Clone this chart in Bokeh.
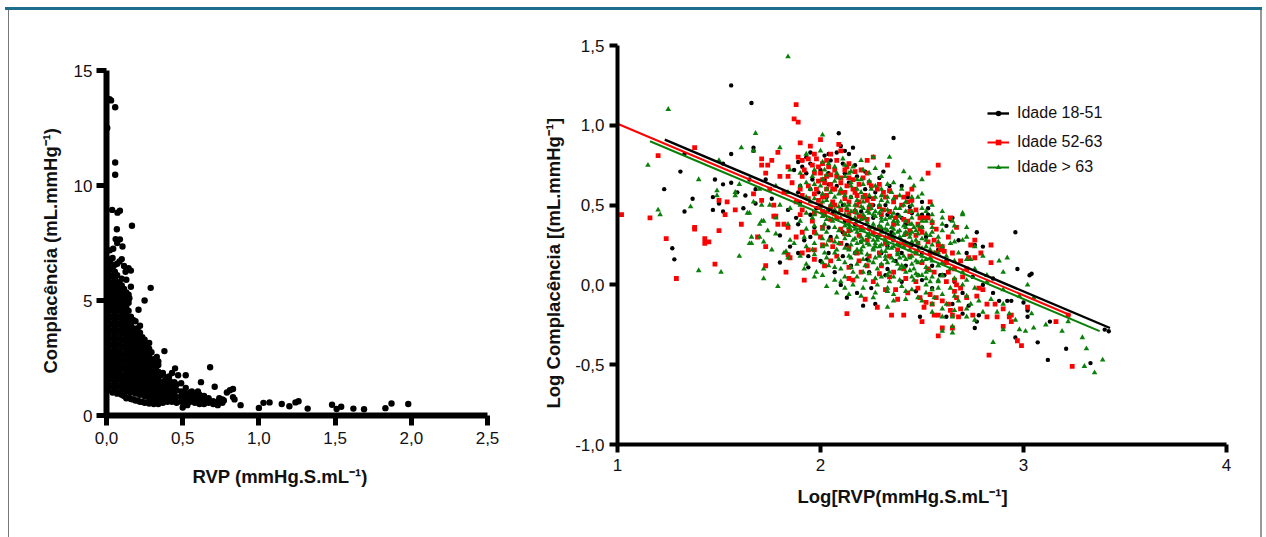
from bokeh.plotting import figure
from bokeh.layouts import row
from bokeh.embed import file_html
from bokeh.resources import INLINE
from bokeh.models import Range1d, FixedTicker, Legend, LegendItem, Title

TICK_FONT = "Liberation Sans"
TITLE_FONT = "Liberation Sans"

# ---------- left panel data ----------
left_x_ticks = [0.0, 0.5, 1.0, 1.5, 2.0, 2.5]
left_x_labels = ["0,0", "0,5", "1,0", "1,5", "2,0", "2,5"]
left_y_ticks = [0, 5, 10, 15]

left_outliers = [(.03,13.7),(.02,13.75),(.057,13.4),(.005,12.5),(.057,11.0),(.057,10.47),(.037,8.94),(.072,8.82),
 (.088,8.9),(.068,8.1),(.167,8.25),(.06,7.67),(.088,7.66),(.07,7.5),(.105,7.35),(.022,7.18),(.044,7.25),
 (.145,6.4),(.16,6.3),(.125,6.25),(.16,5.6),(.29,5.55),(.25,5.0),(.21,4.6),(.15,5.1),(.38,2.8),(.33,2.55),(.68,2.1),
 (.45,2.05),(.43,1.85),(.41,1.7),(.37,1.85),(.47,1.75),(.52,1.75),(.62,1.45),(.71,1.25),(.83,1.15),(.81,1.1),(.79,1.0),
 (.5,.35),(.53,.45),(.56,1.05),(.6,1.05),(.64,.85),(.67,.75),(.74,.75),(.77,.65),(.83,.8),(.84,.7),(.88,.45),
 (1.0,.33),(1.03,.55),(1.07,.57),(1.15,.5),(1.2,.4),(1.24,.57),(1.26,.62),(1.32,.3),(1.48,.47),(1.51,.28),(1.54,.38),
 (1.62,.3),(1.69,.27),(1.83,.32),(1.87,.52),(1.98,.5)]
left_col_x = [.01,.04,.07,.10,.13,.16,.19,.22,.25,.28,.31,.34,.37,.40,.43,.46,.49,.52,.55,.58,.61,.64,.67,.70,.73,.76]
left_col_y = [
 [1.1,1.4,1.7,2.0,2.3,2.6,2.9,3.2,3.5,3.8,4.1,4.4,4.7,5.0,5.3,5.6,5.9,6.2,6.5,6.8],
 [1.0,1.3,1.6,1.9,2.2,2.5,2.8,3.1,3.4,3.7,4.0,4.3,4.6,4.9,5.2,5.5,5.8,6.1,6.4,6.85],
 [.95,1.25,1.55,1.85,2.15,2.45,2.75,3.05,3.35,3.65,3.95,4.25,4.55,4.85,5.15,5.45,5.75,6.1,6.6],
 [.9,1.15,1.45,1.75,2.05,2.35,2.65,2.95,3.25,3.55,3.85,4.15,4.45,4.75,5.05,5.35,5.65,5.95,6.8],
 [.75,1.05,1.35,1.65,1.95,2.25,2.55,2.85,3.15,3.45,3.75,4.05,4.35,4.7,5.0,5.35,5.9],
 [.72,1.0,1.3,1.6,1.9,2.2,2.5,2.8,3.1,3.4,3.7,4.0,4.3],
 [.65,.95,1.25,1.55,1.85,2.15,2.45,2.75,3.05,3.35,3.65,4.1],
 [.6,.9,1.2,1.5,1.8,2.1,2.4,2.7,3.0,3.3,3.6,3.9],
 [.55,.85,1.15,1.45,1.75,2.05,2.35,2.65,2.95,3.3],
 [.52,.8,1.1,1.4,1.7,2.0,2.3,2.6,2.9,3.15],
 [.5,.75,1.05,1.35,1.65,1.95,2.25,2.45],
 [.5,.72,1.0,1.3,1.6,1.9,2.2,2.35],
 [.55,.8,1.1,1.4,1.8],
 [.6,.85,1.1,1.4,1.65],
 [.6,.8,1.05,1.3],
 [.55,.8,1.1,1.35],
 [.6,.85,1.05,1.4],
 [.55,.75,.95,1.2],
 [.6,.8,1.0],
 [.55,.75,.95],
 [.5,.7,.9],
 [.5,.72],
 [.55,.7],
 [.5,.62],
 [.45,.6],
 [.55,.7],
]
left_fill_x = [.025,.055,.085,.115,.145,.175,.205,.235,.265,.295,.325,.355,.385,.415,.445]
left_fill_y = [
 [1.25,1.55,1.85,2.15,2.45,2.75,3.05,3.35,3.65,3.95,4.25,4.55,4.85,5.15,5.45,5.75,6.05,6.35,6.65],
 [1.15,1.45,1.75,2.05,2.35,2.65,2.95,3.25,3.55,3.85,4.15,4.45,4.75,5.05,5.35,5.65,5.95,6.25,6.55],
 [1.0,1.3,1.6,1.9,2.2,2.5,2.8,3.1,3.4,3.7,4.0,4.3,4.6,4.9,5.2,5.5,5.8,6.7],
 [.85,1.2,1.5,1.8,2.1,2.4,2.7,3.0,3.3,3.6,3.9,4.2,4.5,4.85,5.15,5.5,6.5],
 [.8,1.15,1.45,1.75,2.05,2.35,2.65,2.95,3.25,3.55,3.85,4.2,4.55,4.9,5.25],
 [.7,1.1,1.4,1.7,2.0,2.3,2.6,2.9,3.2,3.5,3.8,4.15],
 [.65,1.05,1.35,1.65,1.95,2.25,2.55,2.85,3.15,3.45,3.8],
 [.6,1.0,1.3,1.6,1.9,2.2,2.5,2.8,3.1,3.4],
 [.58,1.0,1.25,1.55,1.85,2.15,2.45,2.75,3.1],
 [.55,.95,1.2,1.5,1.8,2.1,2.4,2.75],
 [.55,.9,1.2,1.5,1.8,2.1,2.45],
 [.6,.9,1.15,1.45,1.75],
 [.65,.95,1.25,1.55],
 [.7,.95,1.25,1.5],
 [.7,.95,1.2,1.45],
]

# ---------- right panel data ----------
right_x_ticks = [1, 2, 3, 4]
right_y_ticks = [-1.0, -0.5, 0.0, 0.5, 1.0, 1.5]
right_y_labels = ["-1,0", "-0,5", "0,0", "0,5", "1,0", "1,5"]

black_line_x, black_line_y = [1.233, 3.426], [0.91, -0.27]
red_line_x, red_line_y = [1.0, 3.232], [1.01, -0.19]
green_line_x, green_line_y = [1.16, 3.375], [0.90, -0.29]

black_pts = [(1.56,1.25),(1.66,1.14),(1.67,.86),(1.67,.84),(1.56,.82),(1.33,.82),(1.31,.71),(1.23,.60),(1.37,.54),(1.33,.46),
 (1.27,.23),(1.28,.16),(1.48,.66),(1.52,.63),(1.56,.64),(1.47,.55),(1.50,.51),(1.47,.47),(1.52,.46),(1.59,.58),(1.63,.56),
 (1.62,.48),(1.68,.60),(1.68,.51),(1.76,.54),(1.65,.66),(1.73,.66),(1.52,.76),(1.80,.14),(1.94,.11),(1.80,.31),(2.09,.95),
 (2.12,.84),(2.14,.82),(2.16,.86),(2.36,.92),(2.08,.83),(2.02,.81),(1.95,.83),(1.91,.78),(2.22,.71),(2.31,.71),(2.29,.67),
 (2.40,.62),(2.43,.55),(2.44,.49),(2.50,.44),(2.53,.48),(2.53,.44),(2.65,.42),(2.62,.37),(2.64,.41),(2.77,.33),(2.96,.33),
 (2.76,.25),(2.80,.24),(2.97,.10),(3.03,.06),(3.04,.07),(2.85,.04),(2.59,.06),(2.61,.06),(3.40,-.28),(3.42,-.29),(3.33,-.49),
 (3.21,-.40),(3.12,-.47),(3.07,-.36),(3.13,-.23),(3.02,-.20),(2.96,-.33),(3.0,-.11),(3.02,-.16),(2.92,-.10),(2.94,-.10),
 (2.88,-.10),(2.76,-.27),(2.49,-.20),(2.77,-.23),(2.78,-.19),(2.73,-.13),(2.47,-.04),
 (2.0,.72),(2.05,.78),(1.93,.70),(1.96,.66),(2.08,.62),(2.12,.7),(2.18,.68),(2.22,.6),(2.27,.58),(2.15,.55),(2.03,.55),(1.98,.48),
 (2.06,.45),(2.12,.40),(2.2,.46),(2.26,.42),(2.32,.5),(2.38,.44),(2.42,.38),(2.35,.33),(2.28,.30),(2.2,.27),(2.13,.25),(2.05,.3),
 (1.97,.36),(1.92,.28),(1.88,.42),(1.84,.47),(1.9,.52),(1.85,.24),(1.94,.18),(2.0,.15),(2.07,.08),(2.15,.12),(2.23,.16),(2.3,.2),
 (2.37,.15),(2.45,.25),(2.52,.3),(2.58,.22),(2.62,.15),(2.68,.28),(2.72,.2),(2.55,.12),(2.48,.06),(2.4,.02),(2.32,.06),(2.25,-.02),
 (2.18,-.05),(2.13,-.08),(2.21,-.13),(2.27,-.12),(2.1,.0),(2.6,.06),(2.66,.02),(2.7,-.05),(2.75,.05),(2.8,.0),(2.65,-.12),(2.62,-.2),
 (2.7,-.18),(2.85,-.05),(2.55,-.02),(2.45,.45),(2.5,.52),(2.34,.62),(2.1,.87),(2.02,.66),(1.99,.58),(1.9,.62),(1.87,.72),(1.93,.8),
 (1.91,.74),(2.04,.7),(2.14,.64),(2.26,.5),(2.3,.35),(2.36,.28),(2.42,.12)]
black_col_x = [1.89,1.95,2.04,2.11,2.17,2.24,2.33,2.4,2.5]
black_col_y = [[.77,.58,.38,.2],[.76,.6,.44,.3],[.82,.63,.47,.36,.2],[.76,.5,.33,.18],[.75,.6,.38,.2],[.55,.35,.08],[.44,.24,.1],[.42,.2],[.36,.2,.03]]

red_pts = [(1.88,1.13),(1.87,1.04),(1.89,1.02),(1.38,.86),(1.20,.81),(1.90,.89),(1.95,.87),(2.0,.91),(2.09,.88),(1.02,.44),(1.16,.42),
 (1.24,.29),(1.38,.36),(1.38,.35),(1.50,.34),(1.43,.29),(1.45,.27),(1.43,.26),(1.48,.13),(1.29,.04),(1.92,.03),(1.83,.08),(1.73,.12),
 (1.84,.19),(1.85,.17),(1.73,.24),(1.69,.30),(1.61,.38),(1.58,.47),(1.53,.44),(1.50,.53),(1.54,.52),(1.71,.53),(1.67,.57),(1.75,.60),
 (1.73,.70),(1.71,.75),(1.74,.75),(1.76,.78),(1.79,.83),(1.71,.79),(1.80,.68),(1.84,.68),(1.84,.74),(1.89,.80),(1.94,.79),(1.98,.79),
 (2.23,.78),(2.26,.80),(2.33,.75),(1.79,.38),(1.77,.43),(1.82,.38),(1.78,.43),(1.77,.50),(2.58,.75),(2.53,.70),(2.45,.60),(2.54,.52),
 (2.43,.57),(2.45,.53),(2.64,.42),(2.67,.36),(2.55,.39),(2.50,.42),(2.51,.42),(2.76,.28),(2.84,.25),(2.74,.25),(2.79,.20),(2.58,.25),
 (2.59,.22),(2.61,.21),(2.65,.20),(2.84,.14),(2.73,.17),(2.76,.17),(2.66,.03),(2.67,.0),(3.24,-.51),(2.83,-.44),(2.99,-.38),(2.97,-.35),
 (3.16,-.23),(3.22,-.19),(2.90,-.26),(2.94,-.23),(2.94,-.19),(2.93,-.20),(2.82,-.20),(2.87,-.20),(3.02,-.14),(2.82,-.12),(2.86,-.12),
 (2.90,-.15),(2.58,-.32),(2.65,-.27),(2.60,-.27),(2.50,-.23),(2.41,-.19),(2.43,-.05),(2.37,-.03),(2.56,-.19),(2.58,-.19),(2.65,-.19),
 (2.68,-.2),(2.75,-.19),(2.64,-.16),(2.52,-.11),(2.55,-.12),(2.51,-.14),(2.49,-.08),(2.57,-.08),(2.67,-.08),(2.77,-.07),(2.80,-.03),
 (1.92,.72),(1.96,.75),(2.0,.7),(2.04,.74),(2.08,.78),(2.12,.72),(2.16,.66),(2.2,.72),(2.24,.64),(2.28,.6),(2.32,.55),(2.36,.52),(2.4,.5),
 (2.44,.46),(2.48,.38),(2.1,.64),(2.06,.6),(2.02,.64),(1.98,.6),(1.94,.62),(1.9,.6),(1.86,.64),(1.82,.58),(1.88,.52),(1.94,.54),(2.0,.5),
 (2.06,.52),(2.12,.54),(2.18,.5),(2.24,.48),(2.3,.44),(2.36,.38),(2.42,.32),(2.48,.26),(2.54,.2),(2.6,.24),(2.66,.1),(2.7,.05),(2.62,.02),
 (2.56,.08),(2.5,.14),(2.44,.18),(2.38,.22),(2.32,.26),(2.26,.32),(2.2,.36),(2.14,.4),(2.08,.42),(2.02,.44),(1.96,.4),(1.9,.44),(1.84,.36),
 (1.88,.3),(1.94,.22),(2.0,.3),(2.06,.24),(2.12,.32),(2.18,.2),(2.24,.18),(2.3,.12),(2.36,.08),(2.42,.04),(2.48,-.02),(2.54,-.06),(2.6,-.1),
 (2.66,-.04),(2.72,-.08),(2.78,-.02),(2.2,.08),(2.14,.04),(2.08,.18),(2.02,.12),(1.97,.16),(2.16,.03),(2.26,.02),(2.32,-.03),(2.38,-.09),
 (2.22,-.09),(2.13,-.18),(2.28,-.14),(2.35,-.19),(2.72,.1),(2.62,.14),(2.56,.28),(2.5,.33),(2.44,.34),(2.12,.58),(2.16,.6),(2.22,.56),
 (2.26,.54),(2.08,.68),(2.03,.6),(2.14,.76),(2.18,.56)]
red_col_x = [1.91,1.97,2.01,2.05,2.1,2.14,2.19,2.23,2.29,2.34,2.41,2.47,2.53,
             1.99,2.03,2.07,2.13,2.17,2.21,2.25,2.31,2.37,2.43,2.49,2.57,2.63,2.69]
red_col_y = [[.78,.68,.56,.47,.33,.2],[.82,.7,.57,.45,.33,.22],[.76,.66,.55,.46,.36,.25],[.82,.69,.63,.49,.41,.28,.15],
 [.84,.67,.58,.47,.35,.26],[.67,.52,.44,.34,.23,.11],[.63,.52,.43,.31,.15],[.7,.53,.41,.28,.12],[.63,.49,.36,.2,.07],
 [.59,.46,.3,.18,.05],[.55,.41,.27,.1],[.47,.31,.2,.02],[.42,.27,.1],
 [.74,.65,.53],[.78,.68,.56],[.72,.6,.5],[.74,.62,.47],[.71,.58,.46],[.67,.55,.42],[.62,.5],[.58,.47],[.55,.42],[.52,.4],[.42,.35],
 [.35,.2],[.3,.08,-.12],[.15,-.02,-.15]]

green_pts = [(1.84,1.43),(1.25,1.10),(1.15,.75),(1.61,.86),(1.68,.95),(2.01,.94),(1.80,.86),(1.67,.84),(1.40,.66),(1.50,.78),(1.20,.47),
 (1.21,.44),(1.36,.49),(1.60,.63),(1.49,.59),(1.49,.56),(1.58,.58),(1.58,.56),(1.67,.52),(1.64,.45),(1.65,.45),(1.66,.30),(1.65,.26),
 (1.66,.26),(1.60,.18),(1.40,.09),(1.51,.08),(1.72,.10),(1.72,.04),(1.79,-.01),(1.83,.21),(1.84,.17),(1.87,.26),(1.72,.27),(1.74,.34),
 (1.71,.40),(1.70,.38),(1.71,.50),(3.29,-.33),(3.31,-.40),(3.30,-.51),(3.39,-.47),(3.35,-.55),(3.19,-.29),(3.22,-.23),(3.01,-.29),
 (2.85,-.36),(3.04,-.18),(3.02,.0),(2.92,.17),(2.70,.45),(2.34,.80),(2.44,.67),
 (1.93,.82),(2.0,.84),(2.04,.76),(2.11,.79),(2.2,.78),(2.26,.8),(2.27,.73),(2.16,.74),
 (1.85,.72),(1.9,.7),(1.96,.68),(2.02,.72),(2.08,.7),(2.14,.7),(2.2,.66),(2.24,.7),(2.3,.68),(2.36,.64),(2.41,.71),(2.46,.62),(2.5,.66),
 (1.7,.6),(1.78,.62),(1.84,.58),(1.9,.62),(1.95,.6),(2.0,.62),(2.05,.58),(2.1,.6),(2.15,.62),(2.2,.58),(2.25,.6),(2.3,.56),(2.35,.58),
 (2.4,.6),(2.45,.55),(2.5,.57),(2.55,.5),
 (1.75,.5),(1.8,.5),(1.85,.48),(1.9,.5),(1.95,.52),(2.0,.48),(2.05,.5),(2.1,.52),(2.13,.48),(2.17,.5),(2.21,.52),(2.25,.48),(2.29,.5),
 (2.33,.52),(2.37,.48),(2.41,.5),(2.45,.46),(2.5,.48),(2.55,.44),(2.6,.46),(2.65,.4),(2.7,.44),
 (1.72,.4),(1.78,.42),(1.84,.38),(1.9,.4),(1.96,.42),(2.02,.38),(2.06,.4),(2.1,.42),(2.14,.38),(2.18,.4),(2.22,.42),(2.26,.38),(2.3,.4),
 (2.34,.42),(2.38,.38),(2.42,.4),(2.46,.36),(2.5,.4),(2.55,.36),(2.6,.38),(2.65,.33),(2.72,.36),
 (1.7,.3),(1.78,.32),(1.85,.28),(1.92,.3),(1.98,.32),(2.04,.28),(2.08,.3),(2.12,.32),(2.16,.28),(2.2,.3),(2.24,.32),(2.28,.28),(2.32,.3),
 (2.36,.32),(2.4,.28),(2.44,.3),(2.48,.32),(2.52,.28),(2.58,.3),(2.64,.26),(2.7,.28),(2.76,.24),
 (1.76,.22),(1.82,.2),(1.9,.18),(1.96,.22),(2.02,.2),(2.08,.22),(2.14,.18),(2.2,.2),(2.26,.22),(2.32,.18),(2.38,.2),(2.44,.22),(2.5,.18),
 (2.56,.2),(2.62,.18),(2.68,.2),(2.74,.16),(2.8,.18),(2.88,.15),
 (1.92,.1),(1.98,.08),(2.04,.12),(2.1,.1),(2.16,.08),(2.22,.12),(2.28,.1),(2.34,.08),(2.4,.12),(2.46,.1),(2.52,.08),(2.58,.12),(2.64,.1),
 (2.7,.08),(2.76,.1),(2.82,.06),(2.9,.08),
 (2.03,-.01),(2.1,.02),(2.16,.0),(2.22,.03),(2.28,.0),(2.34,.02),(2.4,-.01),(2.46,.03),(2.52,.0),(2.58,.02),(2.64,-.02),(2.7,.0),(2.76,-.02),
 (2.82,.02),(2.9,-.03),
 (2.08,-.05),(2.14,-.06),(2.2,-.07),(2.26,-.08),(2.33,-.04),(2.36,-.1),(2.42,-.09),(2.5,-.1),(2.56,-.08),(2.62,-.12),(2.68,-.1),(2.74,-.12),
 (2.78,-.1),(2.84,-.09),(2.9,-.12),(2.98,-.07),(3.05,-.08),
 (2.33,-.14),(2.55,-.17),(2.6,-.2),(2.65,-.2),(2.72,-.2),(2.76,-.22),(2.8,-.17),(2.87,-.17),(2.93,-.18),(2.96,-.22),(2.9,-.28),(2.98,-.28),
 (2.65,-.26),(2.6,-.29),(2.65,-.3),(3.11,-.25),(3.05,-.27)]
green_col_x = [1.93,1.97,2.01,2.03,2.07,2.09,2.12,2.15,2.18,2.21,2.24,2.27,2.3,2.33,2.36,2.39,2.42,2.45,2.48,2.52,2.55,2.6,2.66,2.72,
               2.14,2.17,2.2,2.23,2.26,2.29,2.32,2.35,2.38,2.41,2.44,2.47,2.5,2.54,2.58]
green_col_y = [
 [.64,.55,.45,.35,.24,.13],[.72,.63,.54,.44,.37,.26,.19,.05],[.77,.66,.57,.52,.43,.35,.29,.24,.14,.06],[.69,.6,.53,.46,.41,.33,.25,.17],
 [.74,.65,.55,.47,.44,.36,.27,.2,.11,.03],[.67,.57,.49,.45,.34,.26,.16],[.75,.68,.56,.5,.44,.37,.29,.23,.14,.05,-.02],
 [.71,.64,.55,.46,.41,.34,.25,.17,.11],[.66,.6,.53,.45,.37,.33,.26,.22,.13,.05],[.72,.63,.55,.48,.44,.35,.28,.24,.16,.08,-.02],
 [.65,.56,.5,.45,.36,.3,.25,.15,.07],[.62,.55,.46,.43,.35,.26,.24,.17,.04,-.05],[.6,.53,.47,.42,.36,.33,.25,.21,.13,.05],
 [.63,.55,.47,.38,.34,.26,.23,.14,.06,-.02],[.54,.45,.4,.35,.28,.24,.15,.05,-.06],[.56,.48,.43,.34,.3,.25,.17,.1,.03],
 [.52,.46,.36,.33,.26,.16,.08,-.04],[.5,.42,.38,.33,.27,.18,.13,.05,-.03],[.55,.44,.37,.26,.22,.14,.06,-.08],
 [.46,.4,.32,.24,.16,.11,.04,-.05],[.4,.33,.25,.15,.05,-.03,-.12],[.42,.34,.24,.14,.06,-.06,-.15],[.37,.27,.15,.04,-.07,-.16],
 [.3,.16,.03,-.07,-.15],
 [.5,.43,.36,.31,.22],[.47,.42,.35,.29,.2],[.49,.41,.34,.27,.22],[.46,.39,.31,.26,.19],[.44,.36,.28,.23,.14],[.45,.37,.31,.24,.18],
 [.41,.35,.28,.21,.16],[.43,.36,.3,.23,.17],[.4,.33,.26,.19,.13],[.37,.31,.24,.18,.11],[.38,.32,.25,.17,.09],[.34,.28,.21,.15,.07],
 [.36,.29,.23,.15,.06],[.31,.22,.17,.09,.02],[.27,.2,.12,.03,-.02]]

left_x_title = "RVP (mmHg.S.mL\u207b\u00b9)"
left_y_title = "Complac\u00eancia (mL.mmHg\u207b\u00b9)"
right_x_title = "Log[RVP(mmHg.S.mL\u207b\u00b9]"
right_y_title = "Log Complac\u00eancia [(mL.mmHg\u207b\u00b9]"

BLACK, RED, GREEN = "#000000", "#ff0000", "#0a800a"
CANVAS_H = 527


def style(p, line_w, tick_w, tick_out):
    p.toolbar.logo = None
    p.grid.visible = False
    p.outline_line_color = None
    p.background_fill_color = None
    p.border_fill_color = None
    p.frame_align = False
    for ax in (p.xaxis[0], p.yaxis[0]):
        ax.axis_line_width = line_w
        ax.axis_line_color = BLACK
        ax.major_tick_line_width = tick_w
        ax.major_tick_line_color = BLACK
        ax.major_tick_in = 0
        ax.major_tick_out = tick_out
        ax.minor_tick_line_color = None
        ax.major_label_text_font = TICK_FONT
        ax.major_label_text_font_size = "17px"
        ax.major_label_text_color = "#111111"


def side_title(p, text, side, offset, standoff):
    p.add_layout(Title(text=text, align="left", offset=offset, standoff=standoff,
                       text_font=TITLE_FONT, text_font_style="bold", text_font_size="18.5px",
                       text_color="#111111"), side)


def flat(points, col_x, col_y):
    xs = [a for a, b in points]
    ys = [b for a, b in points]
    for cx, col in zip(col_x, col_y):
        xs += [cx] * len(col)
        ys += col
    return xs, ys


# left panel
p1 = figure(width=520, height=CANVAS_H, output_backend="svg", toolbar_location=None,
            x_range=Range1d(0, 2.5), y_range=Range1d(0, 15),
            min_border_left=101, min_border_right=38, min_border_top=60, min_border_bottom=122)
style(p1, 6, 5, 10)
p1.xaxis[0].ticker = FixedTicker(ticks=left_x_ticks)
p1.xaxis[0].major_label_overrides = dict(zip(left_x_ticks, left_x_labels))
p1.yaxis[0].ticker = FixedTicker(ticks=left_y_ticks)
p1.xaxis[0].major_label_standoff = 6
p1.yaxis[0].major_label_standoff = 4
side_title(p1, left_x_title, "below", 86, 34)
side_title(p1, left_y_title, "left", 42, 19)

lx, ly = flat(left_outliers, left_col_x, left_col_y)
fx, fy = flat([], left_fill_x, left_fill_y)
p1.scatter(lx + fx, ly + fy, marker="circle", size=6.4, fill_color=BLACK, line_color=BLACK, line_width=0)

# right panel
p2 = figure(width=737, height=CANVAS_H, output_backend="svg", toolbar_location=None,
            x_range=Range1d(1, 4), y_range=Range1d(-1, 1.5),
            min_border_left=92, min_border_right=36, min_border_top=35, min_border_bottom=93)
style(p2, 4, 4, 8)
p2.xaxis[0].ticker = FixedTicker(ticks=right_x_ticks)
p2.yaxis[0].ticker = FixedTicker(ticks=right_y_ticks)
p2.yaxis[0].major_label_overrides = dict(zip(right_y_ticks, right_y_labels))
p2.xaxis[0].major_label_standoff = 6
p2.yaxis[0].major_label_standoff = 5
side_title(p2, right_x_title, "below", 180, 21)
side_title(p2, right_y_title, "left", 36, 17)

bx, by = flat(black_pts, black_col_x, black_col_y)
rx, ry = flat(red_pts, red_col_x, red_col_y)
gx, gy = flat(green_pts, green_col_x, green_col_y)
s_black = p2.scatter(bx, by, marker="circle", size=4.4, fill_color=BLACK, line_color=BLACK, line_width=0)
s_red = p2.scatter(rx, ry, marker="square", size=4.8, fill_color=RED, line_color=RED, line_width=0)
s_green = p2.scatter(gx, gy, marker="triangle", size=5.6, fill_color=GREEN, line_color=GREEN, line_width=0)
l_black = p2.line(black_line_x, black_line_y, line_color=BLACK, line_width=2.4)
l_red = p2.line(red_line_x, red_line_y, line_color=RED, line_width=2)
l_green = p2.line(green_line_x, green_line_y, line_color=GREEN, line_width=2)

for label, rs, loc in [("Idade 18-51", [l_black, s_black], (370, 322)),
                       ("Idade 52-63", [l_red, s_red], (370, 293)),
                       ("Idade > 63", [l_green, s_green], (370, 268))]:
    lg = Legend(items=[LegendItem(label=label, renderers=rs)], location=loc,
                background_fill_alpha=0, border_line_color=None,
                glyph_width=22, glyph_height=14, label_standoff=8, margin=0, padding=0,
                label_text_font=TICK_FONT, label_text_font_size="16px", label_text_color="#111111")
    p2.add_layout(lg, "center")

page = row(p1, p2, margin=(7, 0, 0, 5), styles={
    "border-top": "3px solid #1c6e8c",
    "background": "linear-gradient(#777777,#777777) no-repeat 3px 0 / 1px 100%, "
                  "linear-gradient(#999999,#999999) no-repeat 100% 0 / 2px 100%",
})
open("out.html", "w").write(file_html(page, INLINE))
